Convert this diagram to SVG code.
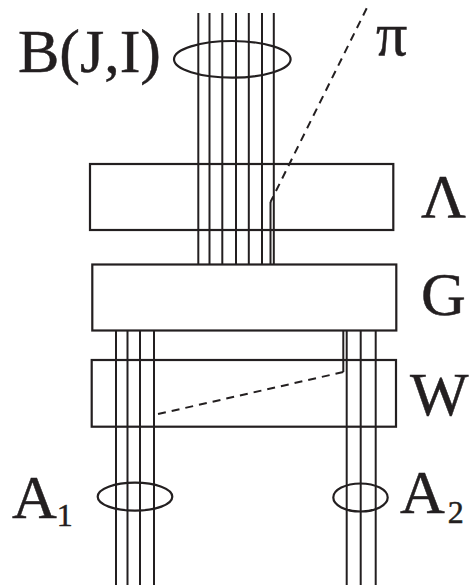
<svg xmlns="http://www.w3.org/2000/svg" width="469" height="585" viewBox="0 0 469 585">
<style>
.box{fill:none;stroke:#231f20;stroke-width:2.2}
.ell{fill:none;stroke:#231f20;stroke-width:2.2}
.w{stroke:#231f20;stroke-width:2;fill:none}
.d{stroke:#231f20;stroke-width:2;fill:none;stroke-dasharray:8,6}
.lbl{font-family:"Liberation Serif","Times New Roman",serif;font-size:62px;fill:#231f20;stroke:#231f20;stroke-width:0.5}
.sub{font-size:32px}
</style>
<rect width="469" height="585" fill="#fff"/>
<g id="connectors">
  <line class="w" x1="198.3" y1="13" x2="198.3" y2="264.5"/>
  <line class="w" x1="209.5" y1="13" x2="209.5" y2="264.5"/>
  <line class="w" x1="222.3" y1="13" x2="222.3" y2="264.5"/>
  <line class="w" x1="236" y1="13" x2="236" y2="264.5"/>
  <line class="w" x1="248.8" y1="13" x2="248.8" y2="264.5"/>
  <line class="w" x1="262" y1="13" x2="262" y2="264.5"/>
  <line class="w" x1="273.8" y1="13" x2="273.8" y2="264.5"/>
  <line class="w" x1="270.5" y1="202" x2="270.5" y2="264.5"/>
  <line class="d" x1="366.7" y1="8.3" x2="270.5" y2="202"/>
  <line class="w" x1="116" y1="330.5" x2="116" y2="585"/>
  <line class="w" x1="127.5" y1="330.5" x2="127.5" y2="585"/>
  <line class="w" x1="140" y1="330.5" x2="140" y2="585"/>
  <line class="w" x1="154" y1="330.5" x2="154" y2="585"/>
  <line class="w" x1="346.7" y1="330.5" x2="346.7" y2="585"/>
  <line class="w" x1="360.7" y1="330.5" x2="360.7" y2="585"/>
  <line class="w" x1="375.7" y1="330.5" x2="375.7" y2="585"/>
  <line class="w" x1="343.3" y1="330.5" x2="343.3" y2="372"/>
  <line class="d" x1="343.3" y1="372" x2="154" y2="415"/>
</g>
<g id="B">
  <ellipse class="ell" cx="232.3" cy="59.3" rx="58.3" ry="18.3"/>
  <text class="lbl" x="18" y="72">B(J,I)</text>
</g>
<g id="pi">
  <text class="lbl" x="376" y="55">π</text>
</g>
<g id="Lambda">
  <rect class="box" x="90" y="164" width="303.3" height="66"/>
  <text class="lbl" x="421" y="216.7">Λ</text>
</g>
<g id="G">
  <rect class="box" x="92.3" y="264.5" width="304" height="66"/>
  <text class="lbl" x="421" y="315">G</text>
</g>
<g id="W">
  <rect class="box" x="91.7" y="360" width="304.3" height="66.7"/>
  <text class="lbl" x="410" y="415">W</text>
</g>
<g id="A1">
  <ellipse class="ell" cx="135" cy="496.7" rx="37.3" ry="14"/>
  <text class="lbl" x="12" y="518.3">A<tspan class="sub" dy="8">1</tspan></text>
</g>
<g id="A2">
  <ellipse class="ell" cx="360.5" cy="497.5" rx="27.2" ry="14"/>
  <text class="lbl" x="400" y="513.3">A<tspan class="sub" dx="3" dy="10">2</tspan></text>
</g>
</svg>
